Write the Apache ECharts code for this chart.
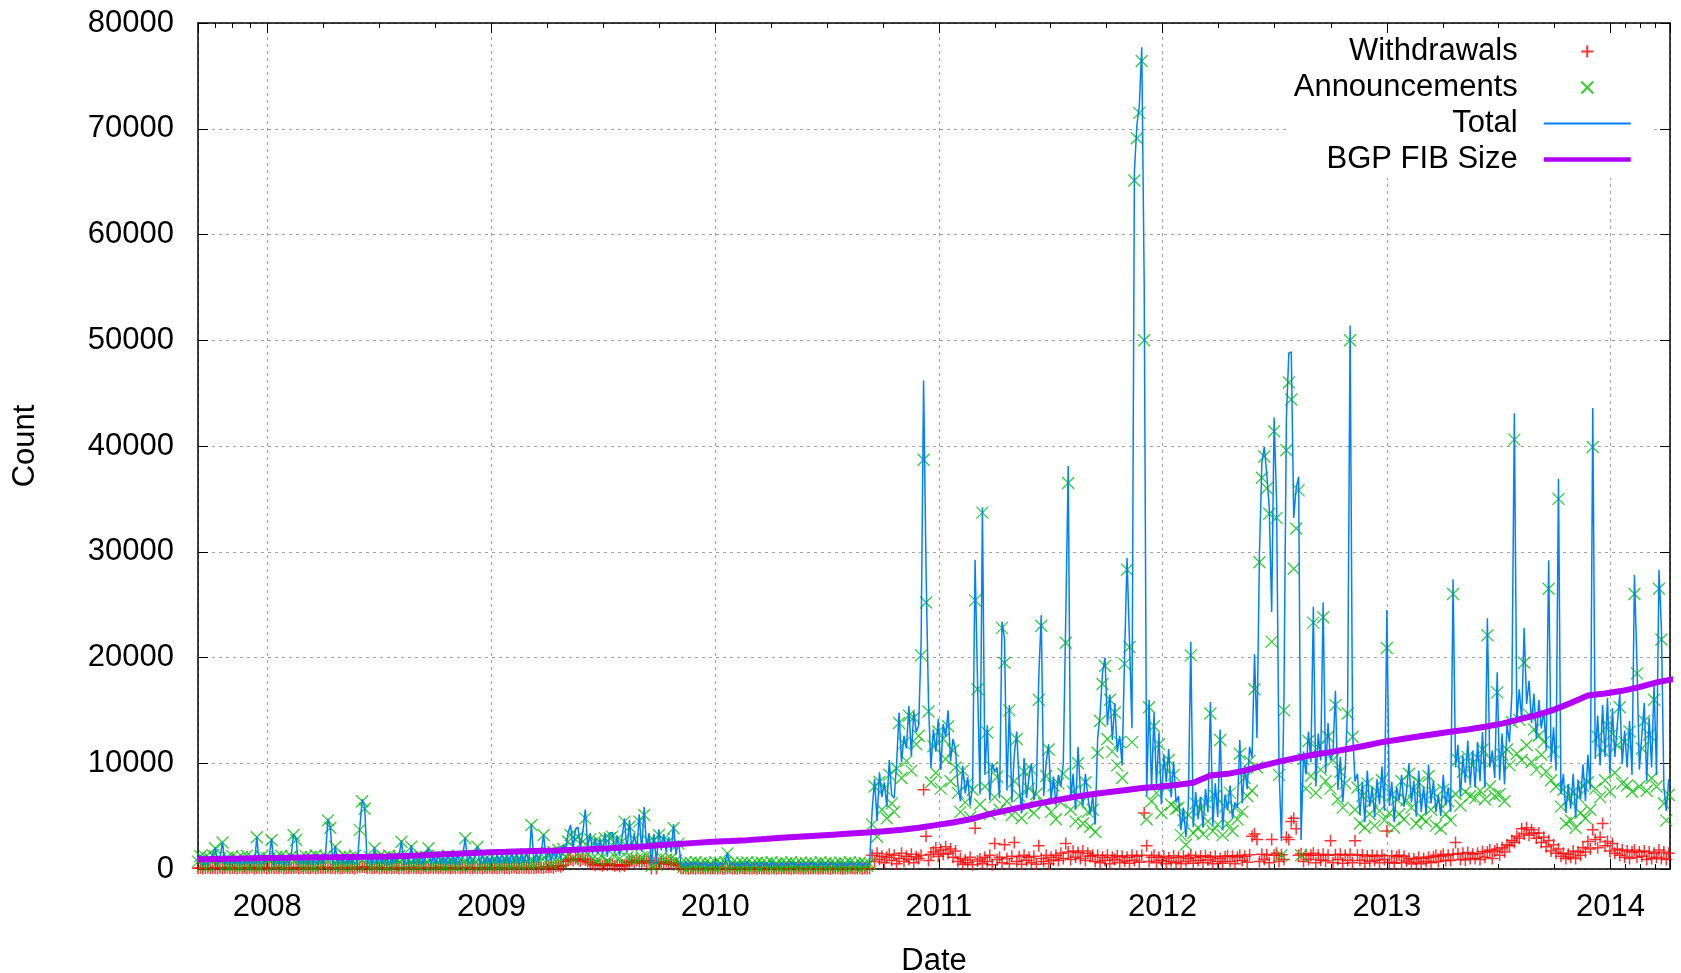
<!DOCTYPE html>
<html><head><meta charset="utf-8">
<script src="https://cdn.jsdelivr.net/npm/echarts@6/dist/echarts.min.js"></script>
<style>html,body{margin:0;padding:0;background:#fff}#c{width:1681px;height:973px}</style>
</head><body><div id="c"></div>
<script>
const DAY = 86400000;
const startDate = [2007, 8, 10];   // first sample: 2007-09-10
const endDate = [2014, 3, 8];      // last sample: 2014-04-08
const sampleStepDays = 4;          // spacing of withdrawals / announcements samples
const fibStepDays = 28;            // spacing of FIB size samples
const yearLabels = ['2008', '2009', '2010', '2011', '2012', '2013', '2014'];
const yTickLabels = ['0', '10000', '20000', '30000', '40000', '50000', '60000', '70000', '80000'];
const seriesNames = ['Withdrawals', 'Announcements', 'Total', 'BGP FIB Size'];

const withdrawals = [
80,120,50,100,140,60,110,90,40,130,
70,100,150,60,90,120,40,110,80,130,
60,100,140,50,90,120,70,150,40,100,
130,60,110,80,140,50,100,120,70,90,
150,40,110,80,130,60,100,140,50,90,
120,70,100,150,60,110,80,130,40,100,
140,70,90,120,50,110,160,200,180,80,
120,60,100,140,50,90,130,70,110,60,
100,150,40,120,80,110,60,140,90,70,
130,50,100,120,60,140,80,110,70,150,
60,100,130,50,120,80,140,70,110,90,
150,60,100,130,70,120,50,140,90,110,
70,130,60,100,150,80,120,50,110,140,
90,60,120,100,150,70,130,80,110,160,
120,90,180,150,200,130,250,300,220,350,
700,850,950,800,1000,900,750,950,850,700,
600,450,350,500,400,300,450,350,500,400,
300,350,250,400,300,450,650,750,600,800,
700,550,750,650,800,50,600,50,550,650,
500,700,450,600,400,550,300,80,40,60,
30,70,50,20,60,40,80,30,60,50,
70,40,20,80,50,30,60,70,40,50,
30,80,60,40,70,20,50,60,30,80,
50,40,70,30,60,50,40,80,20,60,
50,70,30,40,80,60,50,30,70,40,
60,50,80,20,60,40,70,50,30,80,
40,60,70,30,50,40,60,80,40,50,
70,30,60,50,40,1300,700,1500,900,1200,
600,1100,1400,800,1300,500,1000,1500,700,1200,
900,1400,600,1150,1000,1300,7500,3100,800,1400,
1600,2000,1200,1800,1400,2100,1500,1900,1100,1700,
700,1000,450,850,600,1100,400,3850,750,950,
500,1100,700,1300,400,2400,900,1100,600,2300,
1000,500,1200,2500,700,1150,450,1300,800,1100,
600,1200,450,2200,1000,700,1300,500,1100,850,
1300,800,1500,1000,2400,1600,900,1700,1100,1550,
1000,1700,800,1500,1200,1300,700,1300,600,1100,
800,1300,500,1100,900,1250,600,1200,750,1100,
550,1300,800,1200,650,1300,5300,2200,700,1100,
1300,600,1100,800,1200,500,1050,700,1250,600,
1100,500,1200,700,1000,1300,550,1100,800,1200,
600,1250,850,1100,500,1200,700,1000,550,1150,
1250,700,1200,500,1100,1300,800,1200,650,1350,
3100,3300,2800,700,1400,900,1350,600,2800,1300,
1500,700,1350,900,3000,2800,4500,4800,3800,1300,
1450,700,1350,900,1300,1500,600,1300,850,1400,
750,1300,2660,600,1350,900,1400,550,1300,800,
1400,600,2660,1300,800,1350,550,1200,700,1300,
800,1200,600,1300,900,3600,650,1250,550,1150,
1300,600,1200,750,1000,500,950,650,1100,500,
1000,700,1100,600,1150,1300,700,1200,1400,800,
1300,800,1400,2500,1450,900,1500,850,1550,1000,
1400,1000,1500,900,1650,1100,1600,1800,1000,1700,
1900,1300,2000,1600,2300,2200,2700,2500,3100,2900,
3800,3300,3900,3200,3700,3400,2900,3400,2500,3000,
2100,2700,1700,2300,1500,1900,1200,1500,1000,1400,
1100,1700,1000,1600,1300,2000,1600,2600,1900,3700,
2800,2000,3000,4300,2200,2600,1700,2400,1500,1900,
1300,1800,1100,1700,1000,1600,1800,1100,1600,1200,
1700,900,1600,1000,1500,1100,1800,1000,1600,900,
1500
];

const announcements = [
700,1200,300,1150,250,950,1300,1960,400,1000,
2500,350,1100,300,1200,400,1000,250,1150,350,
1250,300,1100,400,3000,250,1200,350,1050,1000,
2740,300,1150,400,1250,300,1100,250,1200,3210,
2740,350,1100,400,1200,300,1150,250,1300,350,
1100,400,1200,4600,3900,300,2110,350,1150,300,
1200,400,1100,300,1250,350,3700,6400,5700,400,
1150,300,1960,350,1200,400,1100,250,1250,350,
1100,400,1200,2580,300,1150,350,2110,400,1100,
300,1200,350,1150,1960,300,1100,400,1250,350,
1100,300,1200,400,1150,350,1250,300,1100,2900,
400,1200,350,1150,2110,300,1250,400,1100,350,
1200,400,1250,350,1300,450,1200,400,1350,450,
1300,400,1250,500,1400,450,4160,500,1350,550,
1400,3220,600,1500,550,1600,700,1800,650,1900,
1200,2600,3220,1000,2800,3060,1300,2600,4790,1400,
2800,1000,2600,900,2500,1100,2900,800,2900,3060,
1200,2800,1000,2600,4480,1100,4000,1000,2800,900,
4480,1100,5110,1300,2600,300,2700,400,3210,1100,
2800,900,2600,1000,3850,800,2400,500,200,650,
150,600,300,650,200,550,250,600,150,500,
250,650,200,550,300,600,1480,200,600,250,
550,150,600,250,650,200,500,300,600,150,
600,250,550,200,650,300,500,150,600,250,
550,200,650,300,500,150,600,250,550,200,
600,300,500,150,650,250,550,200,600,300,
500,150,600,250,550,200,650,300,500,250,
600,200,550,300,500,4200,7800,3050,8250,5600,
7600,4800,8900,6200,5400,9500,13800,8600,11900,10200,
14500,9300,14300,11800,12600,20200,38700,25200,14900,8200,
11600,9100,13000,7600,12300,10400,13500,8300,11200,9600,
7200,5400,9300,6300,8100,4900,7500,25400,17000,6100,
33700,7800,12900,5200,9600,6800,8700,5600,22800,19500,
6400,15000,5100,8300,12300,6900,4800,9200,5900,7600,
9400,5300,7100,16000,23000,6200,8800,11300,5400,7900,
4700,8100,6300,9000,21400,36500,5600,7300,4500,10000,
6200,4300,8200,5400,4000,5600,3500,11000,14000,17500,
19200,12300,16000,11100,14800,9800,12000,8600,19400,28300,
21000,12000,65100,69100,71500,76400,50000,4700,15300,6400,
13500,7200,11800,5300,9600,7700,10300,6100,8900,5700,
5800,3200,4600,2300,5100,20200,3400,6200,3900,5600,
3300,6300,4500,14700,3600,6900,4200,12200,3200,5900,
4300,7200,3600,5800,4700,10900,5400,8600,6900,10200,
7400,17000,9600,29000,37000,39000,36000,33600,21500,41400,
33200,8900,1300,15000,39600,46000,44400,28400,32200,35800,
1300,10400,7600,12100,8800,23300,7200,11500,9400,23800,
8300,12500,7600,10300,15500,6600,9200,5800,8100,14700,
50000,12500,5600,7700,4300,6900,3900,8100,5200,6400,
4100,7300,5500,8400,4600,20900,5300,7000,3900,6600,
5200,8300,4700,6500,9000,5800,7400,4300,8200,4900,
6800,4500,8800,5600,7200,4100,6300,3800,7500,5200,
6400,4600,26000,7100,10300,6000,9200,7300,10600,6900,
9800,6700,10500,7400,11300,6600,22100,7800,10200,6900,
16700,7100,10800,6400,11300,9800,13900,40600,10900,14100,
10300,19500,11700,14600,10100,13200,9400,12600,10800,12000,
9200,26500,8400,11100,7800,35000,5900,7500,4300,6600,
4600,7300,3900,6800,5300,7900,4800,8200,5600,39900,
7600,12500,6800,11200,8400,13600,7300,12800,9100,11700,
15300,8100,12000,7900,13000,7300,26000,18500,7800,11400,
14000,7400,12700,8600,16000,7800,26500,21700,6200,4600,
7000
];

const fibSize = [
920,950,980,1010,1050,1060,1080,1100,1110,1130,
1150,1190,1240,1300,1380,1450,1520,1590,1630,1680,
1720,1760,1820,1880,1960,2050,2130,2260,2360,2470,
2580,2650,2730,2840,2950,3050,3150,3250,3350,3450,
3560,3720,3900,4150,4400,4700,5150,5500,5850,6200,
6500,6800,7050,7250,7450,7650,7780,7950,8150,8850,
9000,9300,9750,10150,10500,10800,11050,11350,11650,12000,
12250,12500,12750,12980,13200,13450,13750,14150,14550,15050,
15700,16400,16600,16850,17200,17650,17950
];

const FONT = '"Liberation Sans", Arial, Helvetica, sans-serif';
const C_RED = '#ff0000', C_GREEN = '#00c000', C_BLUE = '#0080ff', C_PURPLE = '#b000ff';

const t0 = new Date(startDate[0], startDate[1], startDate[2]).getTime();
const tEnd = new Date(endDate[0], endDate[1], endDate[2]).getTime();
const toPairs = (arr, step) => arr.map((v, i) => [t0 + i * step * DAY, v]);
// Total = withdrawals + announcements for each sample
const total = announcements.map((a, i) => a + withdrawals[i]);

const yMin = Number(yTickLabels[0]);
const yMax = Number(yTickLabels[yTickLabels.length - 1]);
const yStep = Number(yTickLabels[1]) - yMin;

const gridStyle = { type: [3, 4], color: '#a0a0a0', width: 1 };
const axisLineStyle = { color: '#000', width: 1.5 };
const yearFmt = v => {
  const d = new Date(v);
  const y = String(d.getFullYear());
  return (d.getMonth() === 0 && d.getDate() === 1 && yearLabels.includes(y)) ? y : '';
};

const xBase = {
  type: 'time', min: t0, max: tEnd,
  minInterval: 365 * DAY, maxInterval: 366 * DAY,
  axisLine: { show: true, onZero: false, lineStyle: axisLineStyle },
  axisTick: { show: true, inside: true, length: 10, lineStyle: { color: '#000', width: 1 } },
  minorTick: { show: true, splitNumber: 4, length: 5, lineStyle: { color: '#000', width: 1 } }
};

const chart = echarts.init(document.getElementById('c'), null, { renderer: 'canvas' });
chart.setOption({
  animation: false,
  backgroundColor: '#fff',
  textStyle: { fontFamily: FONT },
  grid: { left: 198, right: 11, top: 23, bottom: 104, containLabel: false, outerBoundsMode: 'none' },
  legend: {
    orient: 'vertical', align: 'right', right: 29, top: 34,
    padding: [2, 19, 3, 7], itemGap: 5, itemWidth: 87, itemHeight: 12,
    backgroundColor: '#fff', selectedMode: false,
    textStyle: { fontSize: 31, lineHeight: 31, color: '#000', fontFamily: FONT, padding: [0, 21, 0, 0] },
    data: [
      { name: seriesNames[0] },
      { name: seriesNames[1] },
      { name: seriesNames[2], lineStyle: { width: 2 }, itemStyle: { opacity: 0 } },
      { name: seriesNames[3], lineStyle: { width: 4.5 }, itemStyle: { opacity: 0 } }
    ]
  },
  xAxis: [
    Object.assign({}, xBase, {
      position: 'bottom',
      axisLabel: { show: true, formatter: yearFmt, fontSize: 31, color: '#000', margin: 22.5, fontFamily: FONT, hideOverlap: false },
      splitLine: { show: true, lineStyle: gridStyle },
      name: 'Date', nameLocation: 'middle', nameGap: 76.5,
      nameTextStyle: { fontSize: 31, color: '#000', fontFamily: FONT }
    }),
    Object.assign({}, xBase, {
      position: 'top',
      axisLabel: { show: false },
      splitLine: { show: false }
    })
  ],
  yAxis: [
    {
      type: 'value', min: yMin, max: yMax, interval: yStep, position: 'left',
      axisLine: { show: true, onZero: false, lineStyle: axisLineStyle },
      axisTick: { show: true, inside: true, length: 10, lineStyle: { color: '#000', width: 1 } },
      axisLabel: { fontSize: 31, color: '#000', margin: 24, fontFamily: FONT, formatter: v => String(v) },
      splitLine: { show: true, lineStyle: gridStyle },
      name: 'Count', nameLocation: 'middle', nameGap: 157, nameRotate: 90,
      nameTextStyle: { fontSize: 31, color: '#000', fontFamily: FONT }
    },
    {
      type: 'value', min: yMin, max: yMax, interval: yStep, position: 'right',
      axisLine: { show: true, onZero: false, lineStyle: axisLineStyle },
      axisTick: { show: true, inside: true, length: 10, lineStyle: { color: '#000', width: 1 } },
      axisLabel: { show: false },
      splitLine: { show: false }
    }
  ],
  series: [
    {
      name: seriesNames[0], type: 'scatter', xAxisIndex: 0, yAxisIndex: 0,
      symbol: 'path://M0,5L10,5M5,0L5,10', symbolSize: 12,
      itemStyle: { color: C_RED, borderColor: C_RED, borderWidth: 1.5 },
      data: toPairs(withdrawals, sampleStepDays)
    },
    {
      name: seriesNames[1], type: 'scatter', xAxisIndex: 0, yAxisIndex: 0,
      symbol: 'path://M0,0L10,10M10,0L0,10', symbolSize: 12,
      itemStyle: { color: C_GREEN, borderColor: C_GREEN, borderWidth: 1.3 },
      data: toPairs(announcements, sampleStepDays)
    },
    {
      name: seriesNames[2], type: 'line', xAxisIndex: 0, yAxisIndex: 0,
      symbol: 'none', showSymbol: false, sampling: 'none',
      lineStyle: { color: C_BLUE, width: 1.5 }, itemStyle: { color: C_BLUE },
      data: toPairs(total, sampleStepDays)
    },
    {
      name: seriesNames[3], type: 'line', xAxisIndex: 0, yAxisIndex: 0,
      symbol: 'none', showSymbol: false,
      lineStyle: { color: C_PURPLE, width: 6 }, itemStyle: { color: C_PURPLE },
      data: toPairs(fibSize, fibStepDays)
    }
  ]
});
</script>
</body></html>
